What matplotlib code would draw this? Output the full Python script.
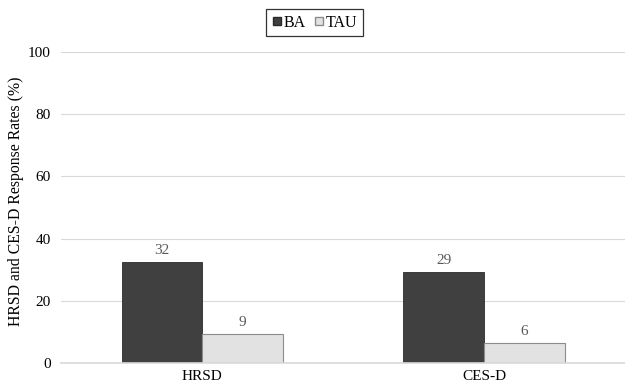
import numpy as np
import matplotlib.pyplot as plt
from matplotlib.lines import Line2D

plt.rcParams['font.family'] = ['Liberation Serif', 'DejaVu Serif']

# Response rates (%) by measure and condition
measures = ["HRSD", "CES-D"]
ba_rates = [32.4, 29.2]
tau_rates = [9.3, 6.3]
series_names = ["BA", "TAU"]

fig = plt.figure(figsize=(6.25, 3.85), dpi=100)
ax = fig.add_axes([0.098, 0.057, 0.902, 0.808])

x = np.arange(len(measures))
w = 0.286
bars_ba = ax.bar(x - w / 2, ba_rates, w, color="#404040", edgecolor="#2a2a2a",
                 linewidth=0.6, zorder=3)
bars_tau = ax.bar(x + w / 2, tau_rates, w, color="#E2E2E2", edgecolor="#8C8C8C",
                  linewidth=0.8, zorder=3)

for bars in (bars_ba, bars_tau):
    for b in bars:
        h = b.get_height()
        ax.text(b.get_x() + b.get_width() / 2, h + 1.6, f"{h:.0f}",
                ha="center", va="bottom", fontsize=11, color="#595959")

ax.set_xlim(-0.5, 1.5)
ax.set_ylim(0, 100)
ax.set_yticks(range(0, 101, 20))
ax.set_xticks(x)
ax.set_xticklabels(measures)
ax.tick_params(axis="both", length=0, labelsize=11, colors="#000000")
ax.tick_params(axis="y", pad=7.5)
ax.tick_params(axis="x", pad=5)
ax.yaxis.grid(True, color="#D9D9D9", linewidth=0.8, zorder=0)
for s in ("top", "right", "left"):
    ax.spines[s].set_visible(False)
ax.spines["bottom"].set_color("#D9D9D9")
ax.spines["bottom"].set_linewidth(1.2)
ax.spines["bottom"].set_zorder(4)
ax.set_ylabel("HRSD and CES-D Response Rates (%)", fontsize=11.3)
ax.yaxis.set_label_coords(-0.066, 0.52)

handles = [
    Line2D([], [], marker="s", linestyle="none", markersize=6,
           markerfacecolor="#404040", markeredgecolor="#2a2a2a"),
    Line2D([], [], marker="s", linestyle="none", markersize=6,
           markerfacecolor="#E2E2E2", markeredgecolor="#8C8C8C"),
]
leg = fig.legend(handles, series_names, loc="upper center",
                 bbox_to_anchor=(0.503, 0.997), ncol=2, frameon=True,
                 fancybox=False, fontsize=11.5, handlelength=0.7,
                 handletextpad=0.05, columnspacing=0.5, borderpad=0.35)
leg.get_frame().set_edgecolor("#000000")
leg.get_frame().set_linewidth(0.9)

fig.savefig("out.png", dpi=100)
